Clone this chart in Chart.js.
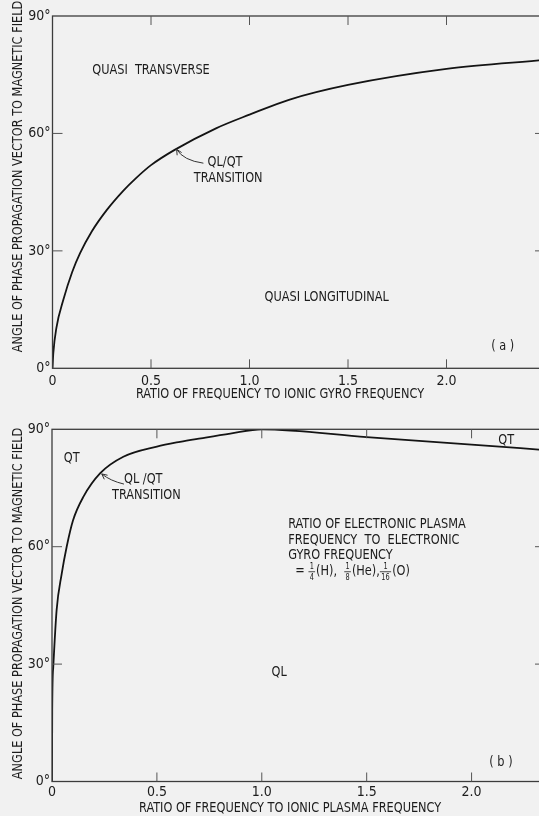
<!DOCTYPE html>
<html>
<head>
<meta charset="utf-8">
<script src="https://cdn.jsdelivr.net/npm/chart.js@4.4.1/dist/chart.umd.min.js"></script>
<style>
  html, body { margin: 0; padding: 0; background: #f1f1f1; overflow: hidden; width: 539px; height: 816px; }
  .panel { position: absolute; left: 0; width: 560px; height: 408px; }
  #wrapA { top: 0; }
  #wrapB { top: 408px; }
</style>
</head>
<body>
<div class="panel" id="wrapA"><canvas id="chartA" width="560" height="408"></canvas></div>
<div class="panel" id="wrapB"><canvas id="chartB" width="560" height="408"></canvas></div>
<script>
const FONT = "'Liberation Sans Narrow', 'DejaVu Sans Condensed', 'Liberation Sans', sans-serif";
const INK = '#1c1c1c';
const TEXT_SIZE = 14;     // lettering size for notes and titles
const TEXT_SQUEEZE = 0.9; // horizontal condensing of the lettering

// (a) angle vs ratio of frequency to ionic gyro frequency
const gyroRatio = [0, 0.004, 0.02, 0.055, 0.1, 0.14, 0.2, 0.275, 0.36, 0.42, 0.5, 0.62, 0.83, 1.0, 1.2, 1.5, 2.0, 2.5];
const gyroAngle = [0, 3.8, 10.4, 17.5, 24.6, 29.4, 35.0, 40.4, 45.4, 48.4, 51.9, 55.8, 61.3, 64.8, 68.6, 72.4, 76.5, 78.8];

// (b) angle vs ratio of frequency to ionic plasma frequency
const plasmaRatio = [0, 0.001, 0.006, 0.022, 0.046, 0.07, 0.1, 0.15, 0.23, 0.34, 0.5, 0.61, 0.71, 0.85, 1.0, 1.5, 2.0, 2.35];
const plasmaAngle = [0, 18.3, 29.3, 43.8, 53, 60, 66.7, 72.8, 78.8, 83, 85.6, 86.8, 87.7, 88.9, 90, 88.0, 86.1, 84.7];

// axis ticks
const xTickValues = [0, 0.5, 1, 1.5, 2];
const xTickLabels = ['0', '0.5', '1.0', '1.5', '2.0'];
const yTickValues = [0, 30, 60, 90];
const yTickLabels = ['0°', '30°', '60°', '90°'];

const yTitleText = 'ANGLE OF PHASE PROPAGATION VECTOR TO MAGNETIC FIELD';

function line(ctx, x1, y1, x2, y2) {
  ctx.beginPath(); ctx.moveTo(x1, y1); ctx.lineTo(x2, y2); ctx.stroke();
}

// condensed lettering: text drawn with a horizontal squeeze about its anchor
function letter(ctx, text, x, y, align, size) {
  ctx.save();
  ctx.font = `${size || TEXT_SIZE}px ${FONT}`;
  ctx.textAlign = align || 'center';
  ctx.translate(x, y);
  ctx.scale(TEXT_SQUEEZE, 1);
  ctx.fillText(text, 0, 0);
  const w = ctx.measureText(text).width * TEXT_SQUEEZE;
  ctx.restore();
  return w;
}

// text runs with stacked fractions, left aligned
function drawRuns(ctx, runs, x, y) {
  let cx = x;
  for (const r of runs) {
    if (r.t !== undefined) {
      cx += letter(ctx, r.t, cx, y, 'left');
    } else {
      const fs = TEXT_SIZE * 0.58;
      ctx.font = `${fs}px ${FONT}`;
      const w = Math.max(ctx.measureText(r.num).width, ctx.measureText(r.den).width) + 2;
      letter(ctx, r.num, cx + w / 2, y - fs * 0.62, 'center', fs);
      letter(ctx, r.den, cx + w / 2, y + fs * 0.78, 'center', fs);
      ctx.save(); ctx.lineWidth = 0.8; ctx.strokeStyle = INK; line(ctx, cx, y, cx + w, y); ctx.restore();
      cx += w + 1;
    }
  }
}

const panelDecor = {
  id: 'panelDecor',
  afterDraw(chart, args, opts) {
    const { ctx, chartArea: a, scales: { x, y } } = chart;
    ctx.save();
    // frame
    ctx.strokeStyle = '#3c3c3c';
    ctx.lineWidth = 1.3;
    ctx.strokeRect(a.left, a.top, a.right - a.left, a.bottom - a.top);
    // inward tick marks
    ctx.lineWidth = 1;
    ctx.strokeStyle = '#555';
    for (const t of x.ticks) {
      if (t.value <= x.min || t.value >= x.max) continue;
      const px = x.getPixelForValue(t.value);
      line(ctx, px, a.bottom, px, a.bottom - 9);
      line(ctx, px, a.top, px, a.top + 9);
    }
    for (const t of y.ticks) {
      if (t.value <= y.min || t.value >= y.max) continue;
      const py = y.getPixelForValue(t.value);
      line(ctx, a.left, py, a.left + 10, py);
      line(ctx, a.right, py, a.right - 10, py);
    }
    ctx.fillStyle = INK;
    ctx.textBaseline = 'middle';
    // region labels
    for (const n of opts.notes) {
      letter(ctx, n.text, x.getPixelForValue(n.x), y.getPixelForValue(n.y), n.align);
    }
    if (opts.runs) {
      drawRuns(ctx, opts.runs.items, x.getPixelForValue(opts.runs.x), y.getPixelForValue(opts.runs.y));
    }
    // curved pointer to the transition point
    if (opts.arrow) {
      const ar = opts.arrow;
      const p0 = [x.getPixelForValue(ar.from[0]), y.getPixelForValue(ar.from[1])];
      const c = [x.getPixelForValue(ar.via[0]), y.getPixelForValue(ar.via[1])];
      const p2 = [x.getPixelForValue(ar.to[0]), y.getPixelForValue(ar.to[1])];
      ctx.strokeStyle = '#333';
      ctx.lineWidth = 1;
      ctx.beginPath(); ctx.moveTo(p0[0], p0[1]); ctx.quadraticCurveTo(c[0], c[1], p2[0], p2[1]); ctx.stroke();
      const ang = Math.atan2(p2[1] - c[1], p2[0] - c[0]);
      const hl = 6, hw = 0.45;
      line(ctx, p2[0], p2[1], p2[0] - hl * Math.cos(ang - hw), p2[1] - hl * Math.sin(ang - hw));
      line(ctx, p2[0], p2[1], p2[0] - hl * Math.cos(ang + hw), p2[1] - hl * Math.sin(ang + hw));
    }
    // axis titles
    letter(ctx, opts.xTitle.text, x.getPixelForValue(opts.xTitle.x), a.bottom + opts.xTitle.dy, 'center');
    ctx.save();
    ctx.translate(opts.yTitle.px, y.getPixelForValue(opts.yTitle.y));
    ctx.rotate(-Math.PI / 2);
    letter(ctx, yTitleText, 0, 0, 'center');
    ctx.restore();
    ctx.restore();
  }
};

function makeChart(id, xs, ys, cfg) {
  const points = xs.map((v, i) => ({ x: v, y: ys[i] }));
  return new Chart(document.getElementById(id), {
    type: 'scatter',
    data: {
      datasets: [{
        data: points,
        showLine: true,
        pointRadius: 0,
        borderColor: '#141414',
        borderWidth: 1.8,
        cubicInterpolationMode: 'monotone'
      }]
    },
    options: {
      responsive: false,
      animation: false,
      devicePixelRatio: 1,
      events: [],
      layout: { padding: { left: 0, top: cfg.top, right: cfg.right, bottom: 0 } },
      plugins: {
        legend: { display: false },
        tooltip: { enabled: false },
        panelDecor: cfg.decor
      },
      scales: {
        x: {
          type: 'linear',
          min: 0,
          max: cfg.xMax,
          afterBuildTicks: s => { s.ticks = xTickValues.map(v => ({ value: v })); },
          afterFit: s => { s.height = cfg.xHeight; },
          grid: { display: false, drawTicks: false },
          border: { display: false },
          ticks: {
            padding: cfg.xPad,
            color: INK,
            font: { family: FONT, size: 14 },
            maxRotation: 0,
            callback: v => xTickLabels[xTickValues.indexOf(v)]
          }
        },
        y: {
          type: 'linear',
          min: 0,
          max: 90,
          afterBuildTicks: s => { s.ticks = yTickValues.map(v => ({ value: v })); },
          afterFit: s => { s.width = cfg.yWidth; },
          grid: { display: false, drawTicks: false },
          border: { display: false },
          ticks: {
            padding: 2,
            color: INK,
            font: { family: FONT, size: 14 },
            callback: v => yTickLabels[yTickValues.indexOf(v)]
          }
        }
      }
    },
    plugins: [panelDecor]
  });
}

makeChart('chartA', gyroRatio, gyroAngle, {
  xMax: 2.5, top: 16, right: 15, xHeight: 39.7, yWidth: 52.5, xPad: 5,
  decor: {
    notes: [
      { text: 'QUASI  TRANSVERSE', x: 0.5, y: 76 },
      { text: 'QL/QT', x: 0.876, y: 52.5 },
      { text: 'TRANSITION', x: 0.892, y: 48.5 },
      { text: 'QUASI LONGITUDINAL', x: 1.392, y: 18.2 },
      { text: '( a )', x: 2.285, y: 5.5 }
    ],
    arrow: { from: [0.766, 52.4], via: [0.664, 53.1], to: [0.63, 55.95] },
    xTitle: { text: 'RATIO OF FREQUENCY TO IONIC GYRO FREQUENCY', x: 1.155, dy: 26 },
    yTitle: { px: 18, y: 49 }
  }
});

makeChart('chartB', plasmaRatio, plasmaAngle, {
  xMax: 2.35, top: 21.3, right: 15, xHeight: 34.5, yWidth: 52, xPad: 2,
  decor: {
    notes: [
      { text: 'QT', x: 0.094, y: 82.6 },
      { text: 'QL /QT', x: 0.435, y: 77.3 },
      { text: 'TRANSITION', x: 0.45, y: 73.0 },
      { text: 'QT', x: 2.165, y: 87.1 },
      { text: 'RATIO OF ELECTRONIC PLASMA', x: 1.126, y: 65.6, align: 'left' },
      { text: 'FREQUENCY  TO  ELECTRONIC', x: 1.126, y: 61.7, align: 'left' },
      { text: 'GYRO FREQUENCY', x: 1.126, y: 57.9, align: 'left' },
      { text: 'QL', x: 1.083, y: 28 },
      { text: '( b )', x: 2.14, y: 5 }
    ],
    runs: {
      x: 1.16, y: 53.6,
      items: [
        { t: '= ' }, { num: '1', den: '4' }, { t: '(H),  ' },
        { num: '1', den: '8' }, { t: '(He),' }, { num: '1', den: '16' }, { t: '(O)' }
      ]
    },
    arrow: { from: [0.343, 76.0], via: [0.279, 76.8], to: [0.237, 78.6] },
    xTitle: { text: 'RATIO OF FREQUENCY TO IONIC PLASMA FREQUENCY', x: 1.135, dy: 26.5 },
    yTitle: { px: 18, y: 45.5 }
  }
});
</script>
</body>
</html>
